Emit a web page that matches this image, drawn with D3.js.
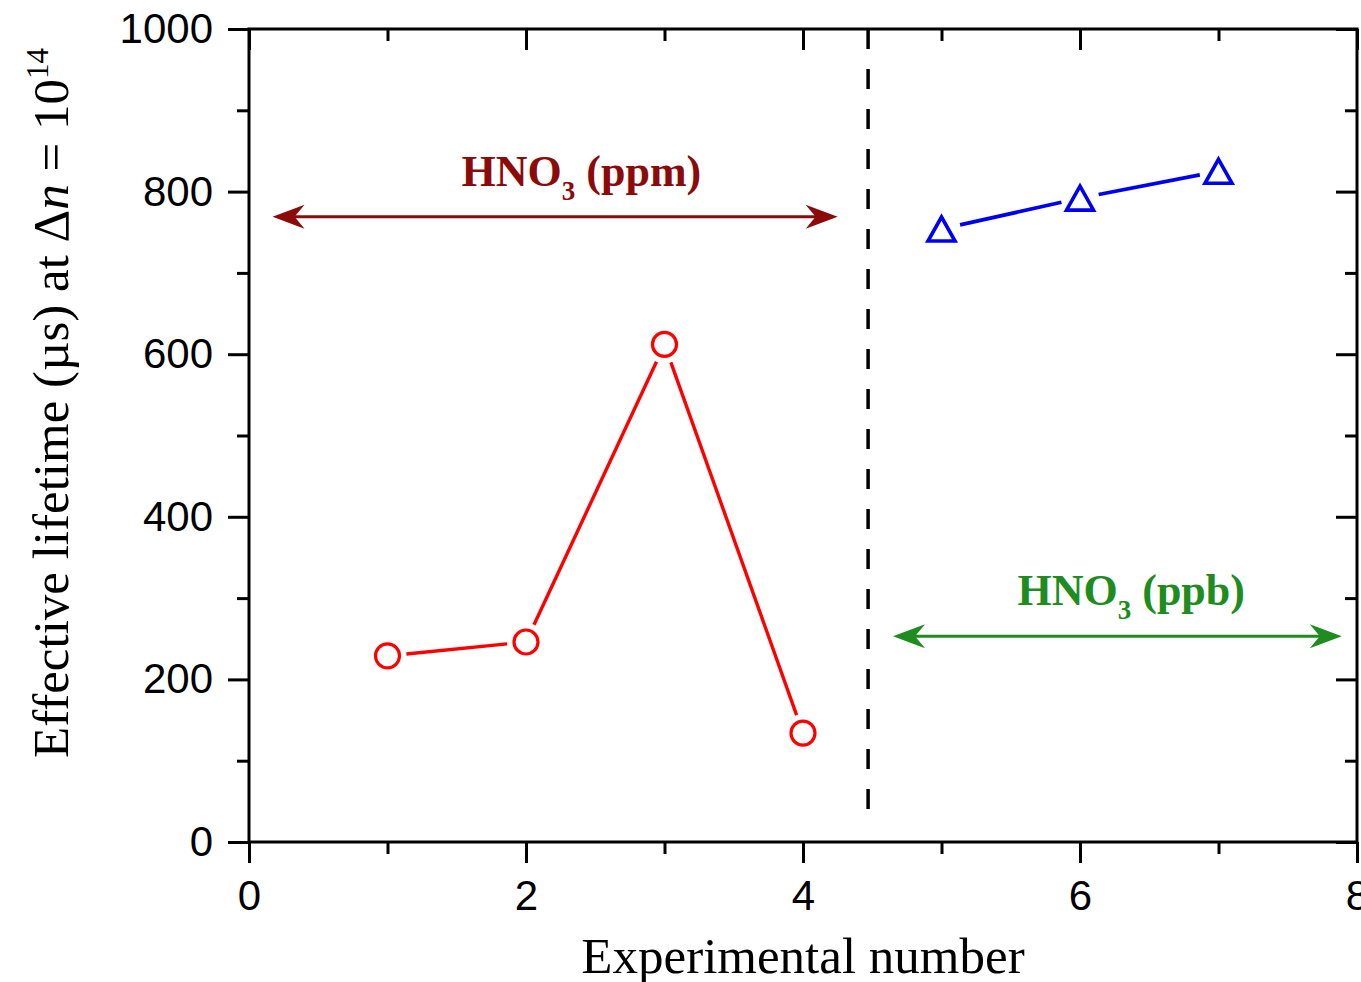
<!DOCTYPE html>
<html>
<head>
<meta charset="utf-8">
<script src="https://cdn.jsdelivr.net/npm/d3@7"></script>
<style>
  html, body { margin: 0; padding: 0; background: #fff; overflow: hidden; }
  svg { display: block; }
</style>
</head>
<body>
<svg id="chart" width="1361" height="982"></svg>
<script>
// Experiment numbers and effective lifetimes (µs)
const ppmRuns = [1, 2, 3, 4];
const ppmLifetime = [229, 246, 612, 134];
const ppbRuns = [5, 6, 7];
const ppbLifetime = [754, 792, 825];

// Axis ticks
const xMajorTicks = [0, 2, 4, 6, 8];
const xMinorTicks = [1, 3, 5, 7];
const yMajorTicks = [0, 200, 400, 600, 800, 1000];
const yMinorTicks = [100, 300, 500, 700, 900];

// Divider between the two concentration regimes
const dividerX = 4.47;
const dividerSpan = [1000, 36];

// Range arrows (data units) and their labels
const ppmArrow = { x: [0.17, 4.25], y: 769 };
const ppbArrow = { x: [4.65, 7.89], y: 253 };
const ppmLabel = { x: 2.4, y: 807, text: "HNO", sub: "3", tail: " (ppm)" };
const ppbLabel = { x: 6.37, y: 291, text: "HNO", sub: "3", tail: " (ppb)" };

const margin = { left: 249, top: 29, right: 4, bottom: 140 };
const W = 1361, H = 982;
const innerW = W - margin.left - margin.right;   // 1108
const innerH = H - margin.top - margin.bottom;   // 813

const svg = d3.select("#chart");
const g = svg.append("g").attr("transform", `translate(${margin.left},${margin.top})`);

const x = d3.scaleLinear().domain([0, 8]).range([0, innerW]);
const y = d3.scaleLinear().domain([0, 1000]).range([innerH, 0]);

const RED = "#ff0000", BLUE = "#0000f0", DARKRED = "#8b0a0a", GREEN = "#1e8c1e";
const SANS = "'Liberation Sans', Arial, sans-serif";
const SERIF = "'Liberation Serif', 'Times New Roman', serif";

// ---- axes ----
function styleAxis(sel) {
  sel.select(".domain").remove();
  sel.selectAll(".tick line").attr("stroke", "#000").attr("stroke-width", 3);
  sel.selectAll("text").attr("font-family", SANS).attr("font-size", 42).attr("fill", "#000");
}
const fmt = d3.format("d");

g.append("g").attr("transform", `translate(0,${innerH})`)
  .call(d3.axisBottom(x).tickValues(xMajorTicks).tickFormat(fmt).tickSize(21).tickPadding(17))
  .call(styleAxis);
g.append("g").attr("transform", `translate(0,${innerH})`)
  .call(d3.axisBottom(x).tickValues(xMinorTicks).tickFormat("").tickSize(12))
  .call(styleAxis);
g.append("g")
  .call(d3.axisTop(x).tickValues(xMajorTicks).tickFormat("").tickSize(-21))
  .call(styleAxis);
g.append("g")
  .call(d3.axisTop(x).tickValues(xMinorTicks).tickFormat("").tickSize(-12))
  .call(styleAxis);

g.append("g")
  .call(d3.axisLeft(y).tickValues(yMajorTicks).tickFormat(fmt).tickSize(21).tickPadding(15))
  .call(styleAxis);
g.append("g")
  .call(d3.axisLeft(y).tickValues(yMinorTicks).tickFormat("").tickSize(12))
  .call(styleAxis);
g.append("g").attr("transform", `translate(${innerW},0)`)
  .call(d3.axisRight(y).tickValues(yMajorTicks).tickFormat("").tickSize(-21))
  .call(styleAxis);
g.append("g").attr("transform", `translate(${innerW},0)`)
  .call(d3.axisRight(y).tickValues(yMinorTicks).tickFormat("").tickSize(-12))
  .call(styleAxis);

// frame
g.append("rect").attr("x", 0).attr("y", 0).attr("width", innerW).attr("height", innerH)
  .attr("fill", "none").attr("stroke", "#000").attr("stroke-width", 3);

// ---- divider ----
g.append("line")
  .attr("x1", x(dividerX)).attr("x2", x(dividerX))
  .attr("y1", y(dividerSpan[0])).attr("y2", y(dividerSpan[1]))
  .attr("stroke", "#000").attr("stroke-width", 3.5).attr("stroke-dasharray", "20,20");

// ---- series: segments stop short of the markers ----
function drawSeries(xs, ys, color, gap, width) {
  const pts = xs.map((v, i) => [x(v), y(ys[i])]);
  for (let i = 0; i < pts.length - 1; i++) {
    const [x0, y0] = pts[i], [x1, y1] = pts[i + 1];
    const len = Math.hypot(x1 - x0, y1 - y0);
    const ux = (x1 - x0) / len, uy = (y1 - y0) / len;
    g.append("line")
      .attr("x1", x0 + ux * gap).attr("y1", y0 + uy * gap)
      .attr("x2", x1 - ux * gap).attr("y2", y1 - uy * gap)
      .attr("stroke", color).attr("stroke-width", width);
  }
  return pts;
}

const redPts = drawSeries(ppmRuns, ppmLifetime, RED, 19, 3.4);
g.selectAll(".circ").data(redPts).enter().append("circle")
  .attr("cx", d => d[0]).attr("cy", d => d[1]).attr("r", 12)
  .attr("fill", "#fff").attr("stroke", RED).attr("stroke-width", 3.2);

const bluePts = drawSeries(ppbRuns, ppbLifetime, BLUE, 19, 3.8);
g.selectAll(".tri").data(bluePts).enter().append("path")
  .attr("transform", d => `translate(${d[0]},${d[1]})`)
  .attr("d", "M0,-12 L13.5,12 L-13.5,12 Z")
  .attr("fill", "#fff").attr("stroke", BLUE).attr("stroke-width", 3.6)
  .attr("stroke-linejoin", "miter");

// ---- double-headed range arrows ----
function arrowHead(px, py, dir, color) {
  // dir = +1 points right, -1 points left
  const L = 32, Wd = 12, notch = 22;
  const p = [[px, py], [px - dir * L, py - Wd], [px - dir * notch, py], [px - dir * L, py + Wd]];
  g.append("path").attr("d", "M" + p.map(q => q.join(",")).join("L") + "Z").attr("fill", color);
}
function rangeArrow(a, color) {
  const xa = x(a.x[0]), xb = x(a.x[1]), yy = y(a.y);
  g.append("line").attr("x1", xa + 20).attr("x2", xb - 20).attr("y1", yy).attr("y2", yy)
    .attr("stroke", color).attr("stroke-width", 3);
  arrowHead(xa, yy, -1, color);
  arrowHead(xb, yy, 1, color);
}
rangeArrow(ppmArrow, DARKRED);
rangeArrow(ppbArrow, GREEN);

function rangeLabel(l, color) {
  const t = g.append("text")
    .attr("x", x(l.x)).attr("y", y(l.y))
    .attr("text-anchor", "middle")
    .attr("font-family", SERIF).attr("font-weight", "bold").attr("font-size", 44)
    .attr("fill", color);
  t.append("tspan").text(l.text);
  t.append("tspan").attr("font-size", 27).attr("dy", 14).text(l.sub);
  t.append("tspan").attr("dy", -14).text(l.tail);
}
rangeLabel(ppmLabel, DARKRED);
rangeLabel(ppbLabel, GREEN);

// ---- axis titles ----
svg.append("text")
  .attr("x", margin.left + x(4)).attr("y", 973)
  .attr("text-anchor", "middle")
  .attr("font-family", SERIF).attr("font-size", 51).attr("fill", "#000")
  .text("Experimental number");

const yt = svg.append("text")
  .attr("transform", "translate(68,758) rotate(-90)")
  .attr("text-anchor", "start")
  .attr("font-family", SERIF).attr("font-size", 51).attr("fill", "#000");
yt.append("tspan").text("Effective lifetime (µs) at Δ");
yt.append("tspan").attr("font-style", "italic").text("n");
yt.append("tspan").text(" = 10");
yt.append("tspan").attr("font-size", 31).attr("dy", -20).text("14");
</script>
</body>
</html>
